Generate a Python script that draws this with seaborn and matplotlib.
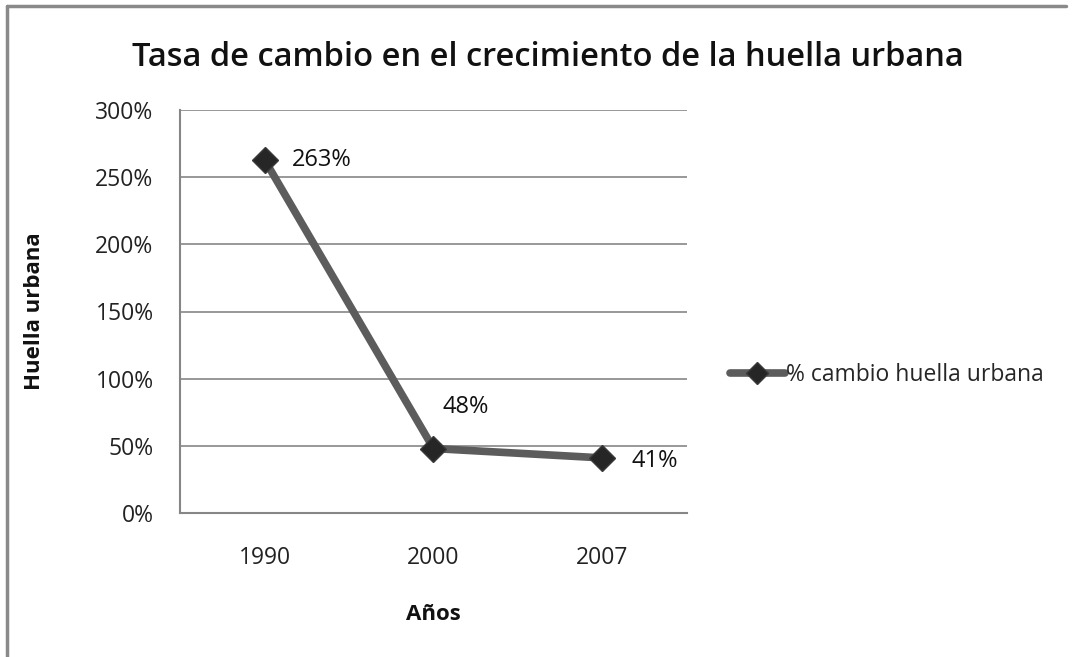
import matplotlib
matplotlib.use("Agg")
import matplotlib.pyplot as plt
import seaborn as sns
import pandas as pd
from matplotlib.lines import Line2D

years = ["1990", "2000", "2007"]
values = [2.63, 0.48, 0.41]
labels = ["263%", "48%", "41%"]
yticks = [0, 0.5, 1.0, 1.5, 2.0, 2.5, 3.0]
ytick_labels = ["0%", "50%", "100%", "150%", "200%", "250%", "300%"]
series_name = "% cambio huella urbana"

sns.set_theme(style="white")
plt.rcParams['font.family'] = ['Open Sans', 'DejaVu Sans']

df = pd.DataFrame({"Año": years, "Valor": values})

fig = plt.figure(figsize=(10.75, 6.57), dpi=100)
ax = fig.add_axes([180/1075, 1-513/657, (687-180)/1075, (513-110)/657])

line_col = "#5c5c5c"
mark_col = "#262626"
sns.lineplot(data=df, x="Año", y="Valor", ax=ax, color=line_col, linewidth=5.5,
             marker="D", markersize=13, markerfacecolor=mark_col,
             markeredgecolor="#3a3a3a", markeredgewidth=1, sort=False)

ax.set_xlim(-0.5, 2.5)
ax.set_ylim(0, 3.0)
ax.set_yticks(yticks)
ax.set_yticklabels(ytick_labels)
ax.yaxis.grid(True, color="#868686", linewidth=1.2)
ax.set_axisbelow(True)
for s in ["top", "right"]:
    ax.spines[s].set_visible(False)
for s in ["left", "bottom"]:
    ax.spines[s].set_color("#868686")
    ax.spines[s].set_linewidth(1.5)
ax.tick_params(axis="both", labelsize=16.5, colors="#222222", length=0)
ax.tick_params(axis="x", pad=24)
ax.tick_params(axis="y", pad=19)

offsets = [(20, 0), (23, 30), (21, -2)]
aligns = ["left", "center", "left"]
for i, (v, lab) in enumerate(zip(values, labels)):
    ax.annotate(lab, (i, v), xytext=offsets[i], textcoords="offset points",
                ha=aligns[i], va="center", fontsize=17, color="#111111")

ax.set_xlabel("Años", fontsize=16, fontweight="bold", labelpad=24, color="#111111")
ax.set_ylabel("Huella urbana", fontsize=16, fontweight="bold", labelpad=36, color="#111111")

fig.suptitle("Tasa de cambio en el crecimiento de la huella urbana",
             x=548/1075, y=1-57/657, va="center", fontsize=23.5, fontweight="semibold",
             color="#111111")

handle = Line2D([0], [0], color=line_col, linewidth=5.5, marker="D", markersize=11,
                markerfacecolor=mark_col, markeredgecolor="#3a3a3a")
fig.legend([handle], [series_name], loc="center left",
           bbox_to_anchor=(709/1075, 1-375/657), frameon=False, fontsize=16.5,
           handlelength=2.4, handletextpad=0.05)
if ax.get_legend():
    ax.get_legend().remove()

fig.add_artist(Line2D([7/1075, 7/1075], [0, 1-6/657], color="#8a8a8a", linewidth=2.5))
fig.add_artist(Line2D([7/1075, 1066/1075], [1-6/657, 1-6/657], color="#8a8a8a", linewidth=2.5))

fig.savefig("out.png", dpi=100)
